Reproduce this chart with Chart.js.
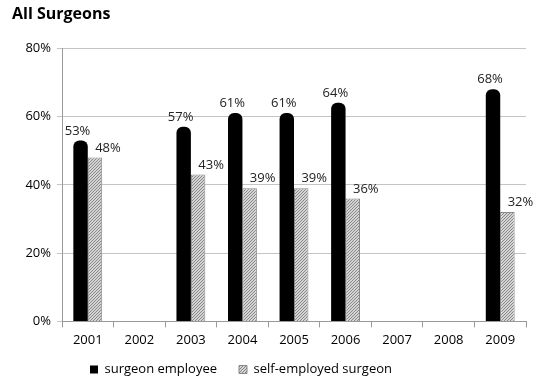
<!DOCTYPE html>
<html>
<head>
<meta charset="utf-8">
<script src="https://cdn.jsdelivr.net/npm/chart.js@4"></script>
<style>
  html, body { margin: 0; padding: 0; background: #fff; }
  #wrap { width: 536px; height: 383px; }
</style>
</head>
<body>
<div id="wrap"><canvas id="c"></canvas></div>
<script>
const years = ['2001', '2002', '2003', '2004', '2005', '2006', '2007', '2008', '2009'];
const employee = [53, null, 57, 61, 61, 64, null, null, 68];
const selfEmployed = [48, null, 43, 39, 39, 36, null, null, 32];
const yTicks = [0, 20, 40, 60, 80];

// diagonal hatch like the original gray bars
const makeHatch = () => {
    const p = document.createElement('canvas');
    p.width = 3; p.height = 3;
    const g = p.getContext('2d');
    g.fillStyle = '#d4d4d4';
    g.fillRect(0, 0, 3, 3);
    g.strokeStyle = '#888';
    g.lineWidth = 1;
    g.beginPath();
    g.moveTo(0, 3); g.lineTo(3, 0);
    g.moveTo(-1, 1); g.lineTo(1, -1);
    g.moveTo(2, 4); g.lineTo(4, 2);
    g.stroke();
    return g.createPattern(p, 'repeat');
};

const valueLabels = {
    id: 'valueLabels',
    afterDatasetsDraw(chart) {
        const ctx = chart.ctx;
        ctx.save();
        ctx.font = '13px "Open Sans", sans-serif';
        ctx.fillStyle = '#222';
        ctx.textAlign = 'center';
        ctx.textBaseline = 'bottom';
        chart.data.datasets.forEach((ds, i) => {
            const meta = chart.getDatasetMeta(i);
            meta.data.forEach((bar, j) => {
                const v = ds.data[j];
                if (v === null) return;
                const dx = i === 0 ? -3 : 13;
                ctx.fillText(v + '%', bar.x + dx, bar.y - 3);
            });
        });
        ctx.restore();
    }
};

// the legend in the original sits a bit left of centre
const nudgeLegend = {
    id: 'nudgeLegend',
    afterLayout(chart) {
        const lg = chart.legend;
        lg.left -= 28; lg.right -= 28;
        lg.top -= 12; lg.bottom -= 12;
    }
};

const hatch = makeHatch();

new Chart(document.getElementById('c'), {
    type: 'bar',
    data: {
        labels: years,
        datasets: [{
            label: 'surgeon employee',
            data: employee,
            backgroundColor: '#000',
            borderRadius: { topLeft: 6, topRight: 6 },
            borderSkipped: 'bottom'
        }, {
            label: 'self-employed surgeon',
            data: selfEmployed,
            backgroundColor: hatch,
            borderColor: '#888',
            borderWidth: 1,
            borderSkipped: 'bottom'
        }]
    },
    options: {
        responsive: true,
        maintainAspectRatio: false,
        animation: false,
        categoryPercentage: 0.56,
        barPercentage: 1,
        layout: { padding: { left: 12, right: 10, top: 0, bottom: -15 } },
        plugins: {
            title: {
                display: true,
                text: 'All Surgeons',
                align: 'start',
                color: '#000',
                font: { family: '"Open Sans", sans-serif', size: 16, weight: 'bold' },
                padding: { top: 5, bottom: 24 }
            },
            legend: {
                position: 'bottom',
                labels: {
                    boxWidth: 8,
                    boxHeight: 8,
                    color: '#000',
                    padding: 22,
                    font: { family: '"Open Sans", sans-serif', size: 13 }
                }
            },
            tooltip: { enabled: false }
        },
        scales: {
            x: {
                grid: { drawOnChartArea: false, color: '#999', tickLength: 6 },
                border: { color: '#999' },
                ticks: {
                    color: '#000',
                    padding: 5,
                    font: { family: '"Open Sans", sans-serif', size: 13 }
                }
            },
            y: {
                min: yTicks[0],
                max: yTicks[yTicks.length - 1],
                afterBuildTicks: axis => { axis.ticks = yTicks.map(v => ({ value: v })); },
                afterFit: axis => { axis.width = 50; },
                grid: { color: '#c4c4c4', tickLength: 5 },
                border: { color: '#999' },
                ticks: {
                    color: '#000',
                    padding: 6,
                    callback: v => v + '%',
                    font: { family: '"Open Sans", sans-serif', size: 13 }
                }
            }
        }
    },
    plugins: [valueLabels, nudgeLegend]
});
</script>
</body>
</html>
